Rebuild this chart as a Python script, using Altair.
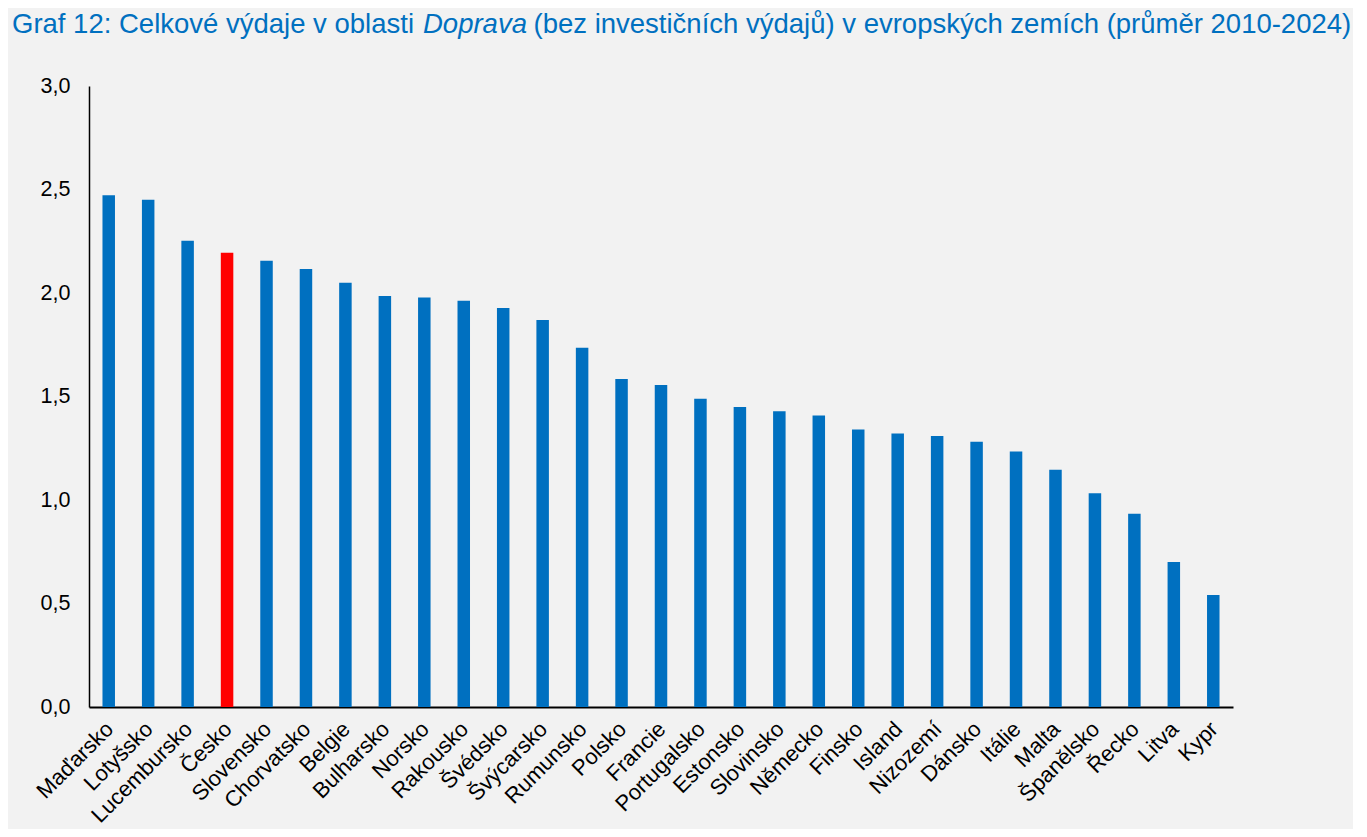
import altair as alt
import pandas as pd

countries = ["Maďarsko", "Lotyšsko", "Lucembursko", "Česko", "Slovensko", "Chorvatsko",
             "Belgie", "Bulharsko", "Norsko", "Rakousko", "Švédsko", "Švýcarsko",
             "Rumunsko", "Polsko", "Francie", "Portugalsko", "Estonsko", "Slovinsko",
             "Německo", "Finsko", "Island", "Nizozemí", "Dánsko", "Itálie", "Malta",
             "Španělsko", "Řecko", "Litva", "Kypr"]
values = [2.472, 2.451, 2.252, 2.194, 2.156, 2.116, 2.050, 1.985, 1.978, 1.963,
          1.928, 1.870, 1.735, 1.584, 1.556, 1.489, 1.449, 1.429, 1.408,
          1.340, 1.321, 1.309, 1.281, 1.234, 1.146, 1.033, 0.933, 0.700, 0.541]
highlight = "Česko"
y_ticks = [0, 0.5, 1.0, 1.5, 2.0, 2.5, 3.0]

title_part1 = ["Graf 12: Celkové výdaje v oblasti "]
title_part2 = ["Doprava"]
title_part3 = ["(bez investičních výdajů) v evropských zemích (průměr 2010-2024)"]

BLUE = "#0070C0"
RED = "#FF0000"
FONT = "Liberation Sans"

df = pd.DataFrame({"country": countries, "value": values})

bars = alt.Chart(df).mark_bar(size=12.5).encode(
    x=alt.X("country:N", sort=None, title=None,
            scale=alt.Scale(paddingInner=0, paddingOuter=0),
            axis=alt.Axis(labelAngle=-45, labelFontSize=22, labelFont=FONT,
                          labelColor="black", ticks=False, domainColor="black",
                          domainWidth=2, labelPadding=11, labelOffset=-6,
                          labelOverlap=False, grid=False)),
    y=alt.Y("value:Q", title=None,
            scale=alt.Scale(domain=[0, 3], nice=False),
            axis=alt.Axis(values=y_ticks, labelFontSize=21.5, labelFont=FONT,
                          labelColor="black", ticks=False, domainColor="black",
                          domainWidth=1.5, labelPadding=19, grid=False,
                          labelExpr="replace(format(datum.value, '.1f'), '.', ',')")),
    color=alt.condition(alt.datum.country == highlight, alt.value(RED), alt.value(BLUE)),
)

def title_text(parts, x, italic=False):
    return alt.Chart(pd.DataFrame({"t": parts})).mark_text(
        align="left", baseline="alphabetic", fontSize=27.5, font=FONT,
        color=BLUE, fontStyle="italic" if italic else "normal"
    ).encode(x=alt.value(x), y=alt.value(-53), text="t:N")

t1 = title_text(title_part1, -77)
t2 = title_text(title_part2, 334, italic=True)
t3 = title_text(title_part3, 444.5)

chart = alt.layer(bars, t1, t2, t3).properties(
    width=1144, height=621,
    autosize=alt.AutoSizeParams(type="none"),
    padding={"left": 81, "top": 78, "right": 120, "bottom": 122},
).configure(background="#F2F2F2").configure_view(stroke=None)

chart.save("out.html", embed_options={"renderer": "svg", "actions": False})
